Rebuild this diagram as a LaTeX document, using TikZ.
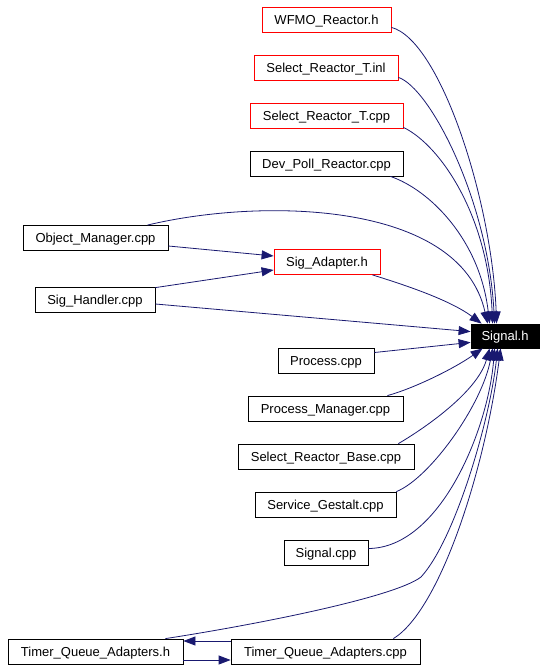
\documentclass[tikz,border=0pt]{standalone}
\usepackage{fontspec}
\setmainfont{Liberation Sans}
\usetikzlibrary{arrows.meta}
\definecolor{edgec}{HTML}{191970}
\begin{document}
\begin{tikzpicture}[x=1pt,y=-1pt,
  box/.style={draw=black, line width=0.8pt, inner sep=0pt, minimum height=25pt, text height=11.5pt, text depth=2pt, fill=white, font=\fontsize{13}{15}\selectfont},
  redbox/.style={box, draw=red},
  dep/.style={draw=edgec, line width=0.8pt, -{Triangle[length=12pt,width=9pt]}}]
\useasboundingbox (0,0) rectangle (547,669);
% nodes
\node[redbox, minimum width=129pt] (wfmo) at (326.5,19.5) {WFMO\_Reactor.h};
\node[redbox, minimum width=144pt] (selinl) at (326,67.5) {Select\_Reactor\_T.inl};
\node[redbox, minimum width=153pt] (selcpp) at (326.5,115.5) {Select\_Reactor\_T.cpp};
\node[box, minimum width=153pt] (devpoll) at (326.5,163.5) {Dev\_Poll\_Reactor.cpp};
\node[box, minimum width=145pt] (objmgr) at (95.5,238) {Object\_Manager.cpp};
\node[redbox, minimum width=106pt] (sigadapter) at (327,262) {Sig\_Adapter.h};
\node[box, minimum width=120pt] (sighandler) at (95,299.5) {Sig\_Handler.cpp};
\node[box, fill=black, text=white, minimum width=68pt, minimum height=24pt] (signalh) at (505,336) {Signal.h};
\node[box, minimum width=96pt] (process) at (326,360.5) {Process.cpp};
\node[box, minimum width=155pt] (procmgr) at (325.5,408.5) {Process\_Manager.cpp};
\node[box, minimum width=176pt] (selbase) at (326,456.5) {Select\_Reactor\_Base.cpp};
\node[box, minimum width=141pt] (service) at (325.5,504.5) {Service\_Gestalt.cpp};
\node[box, minimum width=84pt] (signalcpp) at (326,552.5) {Signal.cpp};
\node[box, minimum width=175pt] (tqah) at (95.5,651.5) {Timer\_Queue\_Adapters.h};
\node[box, minimum width=189pt] (tqacpp) at (325.5,651.5) {Timer\_Queue\_Adapters.cpp};
% edges into Signal.h from above
\draw[dep] ([yshift=5pt]wfmo.south east) .. controls (440,40) and (492,200) .. ([xshift=26pt]signalh.north west);
\draw[dep] ([yshift=3pt]selinl.south east) .. controls (430,88) and (488,200) .. ([xshift=24pt]signalh.north west);
\draw[dep] ([yshift=1pt]selcpp.south east) .. controls (440,145) and (488,215) .. ([xshift=22pt]signalh.north west);
\draw[dep] ([xshift=-13pt]devpoll.south east) .. controls (430,190) and (480,240) .. ([xshift=19pt]signalh.north west);
\draw[dep] ([xshift=-21pt]objmgr.north east) .. controls (260,198) and (460,200) .. ([xshift=17pt]signalh.north west);
\draw[dep] ([yshift=-8pt]objmgr.east) -- ([yshift=6pt]sigadapter.west);
\draw[dep] ([yshift=-1pt]sighandler.north east) -- ([yshift=-8pt]sigadapter.west);
\draw[dep] ([xshift=-8pt]sigadapter.south east) .. controls (405,285) and (450,300) .. ([xshift=11pt]signalh.north west);
\draw[dep] ([yshift=-4.5pt]sighandler.east) -- ([yshift=-8pt]signalh.north west);
\draw[dep] ([yshift=8pt]process.east) -- ([yshift=6pt]signalh.south west);
% edges into Signal.h from below
\draw[dep] ([xshift=-16pt]procmgr.north east) .. controls (415,388) and (455,368) .. ([xshift=12pt]signalh.south west);
\draw[dep] ([xshift=-16pt]selbase.north east) .. controls (430,425) and (478,390) .. ([xshift=19pt]signalh.south west);
\draw[dep] (service.north east) .. controls (430,478) and (482,405) .. ([xshift=22pt]signalh.south west);
\draw[dep] ([yshift=4pt]signalcpp.east) .. controls (440,548) and (488,430) .. ([xshift=24pt]signalh.south west);
\draw[dep] ([xshift=-18pt]tqah.north east) .. controls (260,624) and (395,597) .. (421,577) .. controls (455,540) and (490,420) .. ([xshift=27pt]signalh.south west);
\draw[dep] ([xshift=-27pt]tqacpp.north east) .. controls (440,610) and (485,470) .. ([xshift=30pt]signalh.south west);
% between the timer queue adapters
\draw[dep] ([yshift=10.5pt]tqacpp.west) -- ([yshift=10.5pt]tqah.east);
\draw[dep] ([yshift=-8.5pt]tqah.east) -- ([yshift=-8.5pt]tqacpp.west);
\end{tikzpicture}
\end{document}
